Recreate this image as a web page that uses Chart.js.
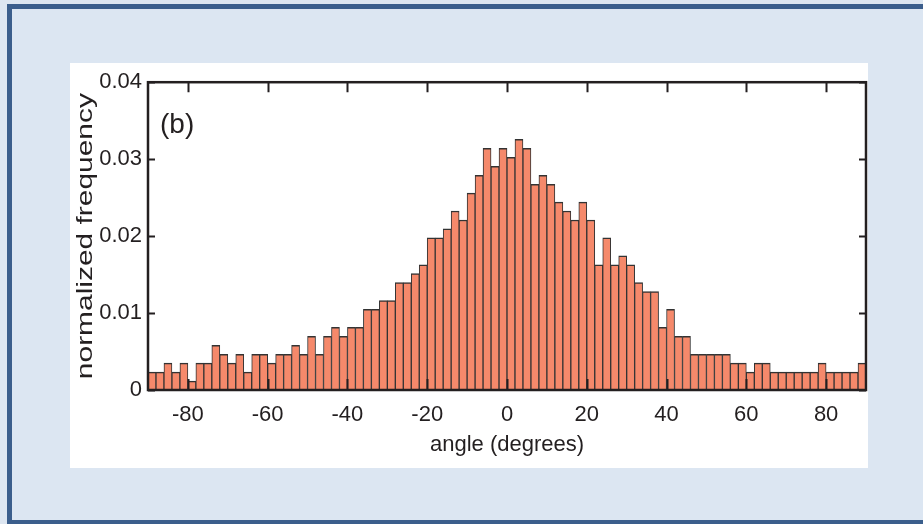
<!DOCTYPE html>
<html>
<head>
<meta charset="utf-8">
<script src="https://cdn.jsdelivr.net/npm/chart.js@4"></script>
<style>
  html, body { margin: 0; padding: 0; background: #dde6f1; width: 923px; height: 524px; overflow: hidden; }
  #box { position: absolute; left: 7px; top: 4px; width: 940px; height: 511px; background: #dce6f2;
         border-top: 5px solid #3b5e8c; border-left: 5px solid #3b5e8c; border-bottom: 4px solid #3b5e8c; }
  #panel { position: absolute; left: 70px; top: 63px; width: 798px; height: 405px; background: #fff; }
</style>
</head>
<body>
<div id="box"></div>
<div id="panel"><canvas id="histChart" width="798" height="405"></canvas></div>
<script>
// bin centres (degrees), 2-degree bins from -90 to 90
const binCenters = [
  -89, -87, -85, -83, -81, -79, -77, -75, -73, -71,
  -69, -67, -65, -63, -61, -59, -57, -55, -53, -51,
  -49, -47, -45, -43, -41, -39, -37, -35, -33, -31,
  -29, -27, -25, -23, -21, -19, -17, -15, -13, -11,
  -9, -7, -5, -3, -1, 1, 3, 5, 7, 9,
  11, 13, 15, 17, 19, 21, 23, 25, 27, 29,
  31, 33, 35, 37, 39, 41, 43, 45, 47, 49,
  51, 53, 55, 57, 59, 61, 63, 65, 67, 69,
  71, 73, 75, 77, 79, 81, 83, 85, 87, 89
];

// normalized frequency
const frequency = [
  0.00233, 0.00233, 0.00349, 0.00233, 0.00349, 0.00116, 0.00349, 0.00349, 0.00581, 0.00465,
  0.00349, 0.00465, 0.00233, 0.00465, 0.00465, 0.00349, 0.00465, 0.00465, 0.00581, 0.00465,
  0.00698, 0.00465, 0.00698, 0.00814, 0.00698, 0.00814, 0.00814, 0.01047, 0.01047, 0.01163,
  0.01163, 0.01395, 0.01395, 0.01512, 0.01628, 0.01977, 0.01977, 0.02093, 0.02326, 0.02209,
  0.02558, 0.02791, 0.03140, 0.02907, 0.03140, 0.03023, 0.03256, 0.03140, 0.02674, 0.02791,
  0.02674, 0.02442, 0.02326, 0.02209, 0.02442, 0.02209, 0.01628, 0.01977, 0.01628, 0.01744,
  0.01628, 0.01395, 0.01279, 0.01279, 0.00814, 0.01047, 0.00698, 0.00698, 0.00465, 0.00465,
  0.00465, 0.00465, 0.00465, 0.00349, 0.00349, 0.00233, 0.00349, 0.00349, 0.00233, 0.00233,
  0.00233, 0.00233, 0.00233, 0.00233, 0.00349, 0.00233, 0.00233, 0.00233, 0.00233, 0.00349
];

const xTicks = [-80, -60, -40, -20, 0, 20, 40, 60, 80];
const yTicks = [0, 0.01, 0.02, 0.03, 0.04];

const FONT = 'Liberation Sans, Arial, Helvetica, sans-serif';
const INK = '#231f20';

// frame box with inward tick marks, the y title and the panel letter
const framePlugin = {
  id: 'frame',
  afterDraw(chart) {
    const { ctx, chartArea: a, scales } = chart;
    ctx.save();
    ctx.strokeStyle = INK;
    ctx.lineWidth = 2;
    ctx.beginPath();
    xTicks.forEach(v => {
      const px = Math.round(scales.x.getPixelForValue(v)) + 0.5;
      ctx.moveTo(px, a.bottom); ctx.lineTo(px, a.bottom - 11);
      ctx.moveTo(px, a.top); ctx.lineTo(px, a.top + 10);
    });
    yTicks.forEach(v => {
      const py = Math.round(scales.y.getPixelForValue(v)) + 0.5;
      ctx.moveTo(a.left, py); ctx.lineTo(a.left + 7, py);
      ctx.moveTo(a.right, py); ctx.lineTo(a.right - 7, py);
    });
    ctx.stroke();
    ctx.lineWidth = 2.5;
    ctx.strokeRect(a.left, a.top, a.right - a.left, a.bottom - a.top);

    ctx.fillStyle = INK;
    ctx.font = '28px ' + FONT;
    ctx.textBaseline = 'middle';
    ctx.fillText('(b)', a.left + 12, a.top + 43);

    // y title: the original lettering is stretched along its length
    ctx.translate(22, (a.top + a.bottom) / 2);
    ctx.rotate(-Math.PI / 2);
    ctx.scale(1.36, 1);
    ctx.font = '22px ' + FONT;
    ctx.textAlign = 'center';
    ctx.textBaseline = 'alphabetic';
    ctx.fillText('normalized frequency', 0, 0);
    ctx.restore();
  }
};

const ctx = document.getElementById('histChart').getContext('2d');
new Chart(ctx, {
  type: 'bar',
  data: {
    datasets: [{
      data: binCenters.map((c, i) => ({ x: c, y: frequency[i] })),
      backgroundColor: '#f5896b',
      borderColor: '#333333',
      borderWidth: { top: 1.5, left: 1, right: 1, bottom: 0 },
      borderSkipped: false,
      barPercentage: 1,
      categoryPercentage: 1
    }]
  },
  options: {
    responsive: false,
    animation: false,
    layout: { padding: { top: 18, right: 2, left: 0, bottom: 0 } },
    plugins: { legend: { display: false }, tooltip: { enabled: false } },
    scales: {
      x: {
        type: 'linear',
        min: -90,
        max: 90,
        offset: false,
        afterBuildTicks: s => { s.ticks = xTicks.map(v => ({ value: v })); },
        afterFit: s => { s.height = 78; },
        grid: { display: false, drawTicks: false },
        border: { display: false },
        ticks: { color: INK, padding: 12, font: { family: FONT, size: 22 }, maxRotation: 0, autoSkip: false },
        title: {
          display: true, text: 'angle (degrees)', color: INK,
          font: { family: FONT, size: 22 }, padding: { bottom: 10 }
        }
      },
      y: {
        min: 0,
        max: 0.04,
        afterBuildTicks: s => { s.ticks = yTicks.map(v => ({ value: v })); },
        afterFit: s => { s.width = 78; },
        grid: { display: false, drawTicks: false },
        border: { display: false },
        ticks: { color: INK, padding: 6, font: { family: FONT, size: 22 }, callback: v => String(v) },
        title: { display: false }
      }
    }
  },
  plugins: [framePlugin]
});
</script>
</body>
</html>
